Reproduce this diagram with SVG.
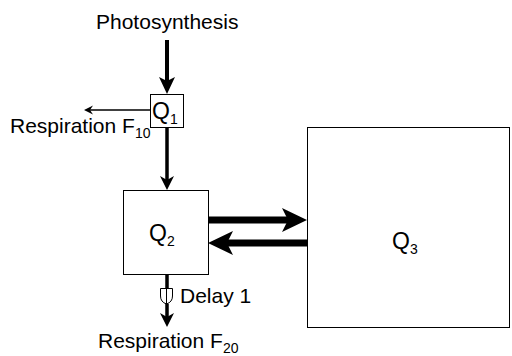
<svg xmlns="http://www.w3.org/2000/svg" width="512" height="356" viewBox="0 0 512 356">
<style>
text{font-family:"Liberation Sans",Arial,sans-serif;fill:#000}
.lbl{font-size:21px}
.q{font-size:23px}
.sub{font-size:14px}
.box{fill:#fff;stroke:#000;stroke-width:1}
.ln{stroke:#000;fill:none}
.hd{fill:#000;stroke:none}
</style>
<rect width="512" height="356" fill="#fff"/>
<g id="connectors">
  <path class="ln" d="M167,40 V82" stroke-width="4"/>
  <path class="hd" d="M167,94 L159,77 L167,81 L175,77 Z"/>
  <path class="ln" d="M150,110 H90" stroke-width="1.5"/>
  <path class="hd" d="M84,110 L93,105.5 L90,110 L93,114.5 Z"/>
  <path class="ln" d="M167,127 V180" stroke-width="3.5"/>
  <path class="hd" d="M167,190 L160,176 L167,180 L174,176 Z"/>
  <path class="ln" d="M208,220 H290" stroke-width="7"/>
  <path class="hd" d="M307,220 L282,208 L288,220 L282,232 Z"/>
  <path class="ln" d="M307,243 H226" stroke-width="7"/>
  <path class="hd" d="M208,243 L233,231 L227,243 L233,255 Z"/>
  <path class="ln" d="M167,274 V288 M167,304 V317" stroke-width="3.5"/>
  <path class="hd" d="M167,327 L160,313 L167,317 L174,313 Z"/>
</g>
<g id="delay">
  <path d="M160.5,288.5 H172.5 V296 Q172.5,302 166.5,304 Q160.5,302 160.5,296 Z" fill="#fff" stroke="#000" stroke-width="1"/>
  <path class="ln" d="M166.5,288.5 V304" stroke-width="1"/>
  <text class="lbl" x="180" y="303">Delay 1</text>
</g>
<g id="photosynthesis">
  <text class="lbl" x="96" y="29">Photosynthesis</text>
</g>
<g id="respiration1">
  <text class="lbl" x="10" y="133">Respiration F<tspan class="sub" dy="5">10</tspan></text>
</g>
<g id="Q1">
  <rect class="box" x="150.5" y="94.5" width="33" height="33"/>
  <text class="q" x="152" y="119">Q<tspan class="sub" dy="5">1</tspan></text>
</g>
<g id="Q2">
  <rect class="box" x="123.5" y="190.5" width="85" height="84"/>
  <text class="q" x="149" y="241">Q<tspan class="sub" dy="5">2</tspan></text>
</g>
<g id="Q3">
  <rect class="box" x="307.5" y="127.5" width="202" height="200"/>
  <text class="q" x="392" y="249">Q<tspan class="sub" dy="5">3</tspan></text>
</g>
<g id="respiration2">
  <text class="lbl" x="98" y="348">Respiration F<tspan class="sub" dy="5">20</tspan></text>
</g>
</svg>
